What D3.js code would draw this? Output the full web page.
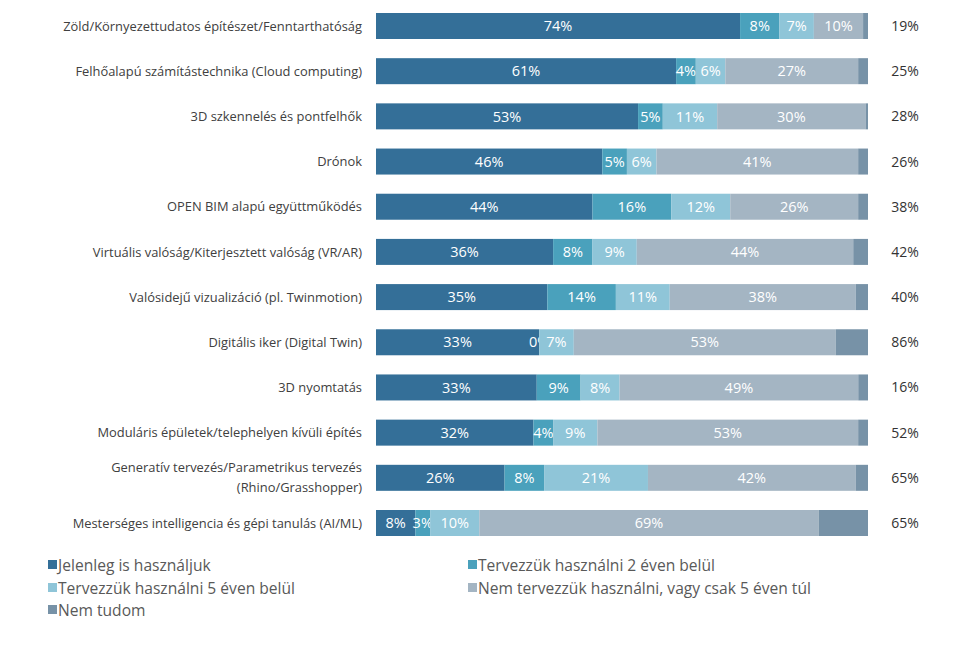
<!DOCTYPE html>
<html><head><meta charset="utf-8">
<script src="https://cdn.jsdelivr.net/npm/d3@7"></script>
<style>
body{margin:0;background:#fff;}
svg{display:block;font-family:"Open Sans",sans-serif;}
</style></head>
<body><svg id="c" width="960" height="662"></svg>
<script>
const categories = [
  ["Zöld/Környezettudatos építészet/Fenntarthatóság"],
  ["Felhőalapú számítástechnika (Cloud computing)"],
  ["3D szkennelés és pontfelhők"],
  ["Drónok"],
  ["OPEN BIM alapú együttműködés"],
  ["Virtuális valóság/Kiterjesztett valóság (VR/AR)"],
  ["Valósidejű vizualizáció (pl. Twinmotion)"],
  ["Digitális iker (Digital Twin)"],
  ["3D nyomtatás"],
  ["Moduláris épületek/telephelyen kívüli építés"],
  ["Generatív tervezés/Parametrikus tervezés","(Rhino/Grasshopper)"],
  ["Mesterséges intelligencia és gépi tanulás (AI/ML)"]
];
const seriesNames = ["Jelenleg is használjuk","Tervezzük használni 2 éven belül","Tervezzük használni 5 éven belül","Nem tervezzük használni, vagy csak 5 éven túl","Nem tudom"];
const jelenleg   = [74,61,53,46,44,36,35,33,33,32,26,8];
const ket_even   = [8,4,5,5,16,8,14,0,9,4,8,3];
const ot_even    = [7,6,11,6,12,9,11,7,8,9,21,10];
const nem_tervez = [10,27,30,41,26,44,38,53,49,53,42,69];
const nem_tudom  = [1,2,0.5,2,2,3,2.5,6.5,2,2,2.5,10];
const rightLabels = ["19%","25%","28%","26%","38%","42%","40%","86%","16%","52%","65%","65%"];
const colors = ["#346f98","#4aa1bc","#8fc5d8","#a4b5c3","#7792a7"];

const svg = d3.select("#c");
const series = [jelenleg, ket_even, ot_even, nem_tervez, nem_tudom];
const x = d3.scaleLinear().domain([0,100]).range([376,868]);
const y = d3.scalePoint().domain(d3.range(categories.length)).range([26,523]);
const bh = 26;

categories.forEach((cat,i)=>{
  const total = d3.sum(series, s=>s[i]);
  let cum = 0;
  series.forEach((s,k)=>{
    const v = s[i];
    const x0 = x(cum/total*100), x1 = x((cum+v)/total*100);
    svg.append("rect").attr("x",x0).attr("y",y(i)-bh/2)
      .attr("width",x1-x0).attr("height",bh).attr("fill",colors[k]);
    if(k<4){
      svg.append("text").attr("x",(x0+x1)/2).attr("y",y(i)).attr("dy","0.36em")
        .attr("text-anchor","middle").attr("fill","#fff").attr("font-size",14.5).text(v+"%");
    }
    cum += v;
  });
  const t = svg.append("text").attr("x",362).attr("text-anchor","end").attr("fill","#404040").attr("font-size",12.9);
  if(cat.length===1){
    t.attr("y",y(i)).attr("dy","0.36em").text(cat[0]);
  } else {
    t.append("tspan").attr("x",362).attr("y",y(i)-10).attr("dy","0.36em").text(cat[0]);
    t.append("tspan").attr("x",362).attr("y",y(i)+10).attr("dy","0.36em").text(cat[1]);
  }
  svg.append("text").attr("x",905).attr("y",y(i)).attr("dy","0.36em").attr("text-anchor","middle")
    .attr("fill","#333").attr("font-size",14).text(rightLabels[i]);
});

const legPos = [[48,565],[468,565],[48,588],[468,588],[48,610]];
seriesNames.forEach((n,k)=>{
  const [lx,ly] = legPos[k];
  svg.append("rect").attr("x",lx).attr("y",ly-5).attr("width",9).attr("height",9).attr("fill",colors[k]);
  svg.append("text").attr("x",lx+10).attr("y",ly).attr("dy","0.36em").attr("fill","#595959").attr("font-size",15.6).text(n);
});
</script></body></html>
